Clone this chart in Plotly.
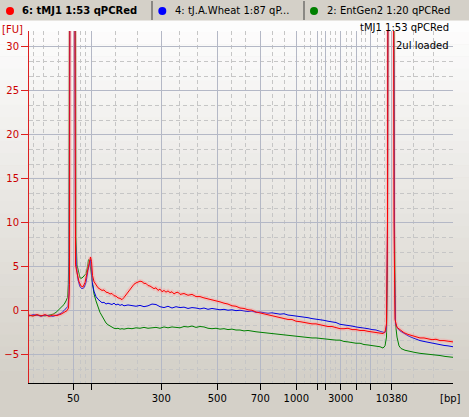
import plotly.graph_objects as go

# ---------------- data (migration position units, fluorescence [FU]) ----------------
red_x = [29, 33, 37, 41, 45, 49, 53, 57, 61, 64, 67, 68.5, 69.5, 70, 72, 74.5, 75, 75.5, 77, 79, 81, 83, 85, 87,
         89, 90.5, 91.5, 92.5, 94, 96, 98, 100, 102, 104, 106, 108, 110, 112, 114, 116, 118, 120, 122, 124, 126,
         128, 130, 132, 134, 136, 138, 140, 142, 144, 146, 148, 150, 152, 154, 156, 158, 160, 162, 164, 166, 168,
         170, 172, 174, 176, 178, 180, 184, 188, 192, 196, 200, 204, 208, 212, 216, 220, 224, 228, 232, 236, 240,
         244, 248, 252, 256, 260, 264, 268, 272, 276, 280, 284, 288, 292, 296, 300, 304, 308, 312, 316, 320, 324,
         328, 332, 336, 340, 344, 348, 352, 356, 360, 364, 368, 372, 376, 380, 383, 385, 386.5, 387.5, 388, 391,
         393.5, 394, 395, 397, 400, 404, 408, 412, 416, 420, 424, 428, 432, 436, 440, 444, 448, 453]
red_y = [-0.5, -0.6, -0.45, -0.6, -0.45, -0.65, -0.5, -0.55, -0.4, -0.2, 0.0, 0.3, 3, 40, 60, 60, 8, 5.2, 4.3, 3.3,
         2.8, 2.7, 3.2, 4.2, 5.4, 6.1, 5.6, 4.0, 3.3, 2.9, 2.6, 2.45, 2.3, 2.35, 2.1, 2.05, 1.9, 1.95, 1.7, 1.65,
         1.45, 1.4, 1.25, 1.5, 1.8, 2.2, 2.5, 2.8, 3.0, 3.15, 3.3, 3.35, 3.3, 3.1, 3.1, 2.85, 2.8, 2.6, 2.5, 2.6,
         2.3, 2.45, 2.15, 2.3, 2.1, 2.25, 2.05, 2.15, 1.9, 2.05, 2.1, 1.85, 1.95, 1.75, 1.85, 1.6, 1.6, 1.45, 1.35,
         1.2, 1.1, 1.0, 0.85, 0.75, 0.55, 0.5, 0.3, 0.25, 0.1, 0.05, -0.15, -0.25, -0.35, -0.5, -0.55, -0.7, -0.8,
         -0.85, -1.0, -1.0, -1.2, -1.25, -1.35, -1.4, -1.5, -1.5, -1.6, -1.65, -1.8, -1.8, -1.95, -2.05, -2.05,
         -2.0, -2.15, -2.15, -2.25, -2.25, -2.35, -2.4, -2.45, -2.55, -2.6, -2.4, -1.5, 10, 40, 60, 40, 10, -1.0,
         -1.9, -2.2, -2.5, -2.7, -2.85, -3.0, -3.1, -3.1, -3.2, -3.3, -3.25, -3.4, -3.4, -3.5, -3.55]

blue_x = [29, 33, 37, 41, 45, 49, 53, 57, 61, 64, 66, 68, 69, 69.5, 70, 72, 74.5, 75, 75.5, 76.5, 78, 80, 82, 84,
          86, 88, 89.5, 90.5, 91.5, 92.5, 94, 96, 98, 100, 102, 104, 106, 108, 110, 112, 114, 116, 118, 120, 122,
          124, 128, 132, 136, 140, 144, 148, 152, 156, 160, 164, 168, 172, 176, 180, 184, 188, 192, 196, 200, 204,
          208, 212, 216, 220, 224, 228, 232, 236, 240, 244, 248, 252, 256, 260, 264, 268, 272, 276, 280, 284, 288,
          292, 296, 300, 304, 308, 312, 316, 320, 324, 328, 332, 336, 340, 344, 348, 352, 356, 360, 364, 368, 372,
          376, 380, 383, 385, 386.5, 387.5, 388, 391, 394, 394.5, 395.5, 397, 400, 404, 408, 412, 416, 420, 424,
          428, 432, 436, 440, 444, 448, 453]
blue_y = [-0.6, -0.45, -0.5, -0.65, -0.5, -0.55, -0.65, -0.5, -0.3, 0.0, 0.3, 0.5, 2, 13, 40, 60, 50, 23, 8, 5.0,
          3.5, 2.7, 2.5, 2.6, 3.2, 4.6, 5.6, 5.8, 4.5, 3.0, 2.2, 1.6, 1.3, 1.05, 0.9, 0.95, 0.75, 0.85, 0.8, 0.7,
          0.85, 0.65, 0.75, 0.6, 0.7, 0.55, 0.65, 0.6, 0.5, 0.6, 0.45, 0.55, 0.75, 0.7, 0.45, 0.35, 0.5, 0.3, 0.45,
          0.35, 0.4, 0.25, 0.35, 0.3, 0.2, 0.3, 0.15, 0.25, 0.2, 0.1, 0.15, 0.05, 0.1, 0.0, 0.05, -0.05, -0.1,
          -0.05, -0.2, -0.15, -0.25, -0.3, -0.25, -0.35, -0.4, -0.35, -0.5, -0.55, -0.6, -0.7, -0.75, -0.8, -0.9,
          -0.95, -1.05, -1.1, -1.2, -1.25, -1.35, -1.55, -1.6, -1.7, -1.75, -1.85, -1.9, -2.0, -2.05, -2.15, -2.2,
          -2.35, -2.45, -2.5, -2.0, 10, 40, 60, 27, 5, -1.5, -1.9, -2.3, -2.6, -2.85, -3.05, -3.25, -3.4, -3.5,
          -3.6, -3.7, -3.75, -3.85, -3.95, -4.0, -4.1]

green_x = [29, 33, 37, 41, 45, 49, 53, 56, 59, 62, 64, 66, 67.5, 68.3, 68.8, 69.5, 72, 75.5, 76, 77, 78.5, 80, 82,
           84, 86, 87.5, 88.5, 89.5, 91, 92.5, 94, 96, 98, 100, 102, 104, 106, 108, 110, 112, 114, 116, 118, 120,
           122, 124, 128, 132, 136, 140, 144, 148, 152, 156, 160, 164, 168, 172, 176, 180, 184, 188, 192, 196, 200,
           204, 208, 212, 216, 220, 224, 228, 232, 236, 240, 244, 248, 252, 256, 260, 264, 268, 272, 276, 280, 284,
           288, 292, 296, 300, 304, 308, 312, 316, 320, 324, 328, 332, 336, 340, 344, 348, 352, 356, 360, 364, 368,
           372, 376, 380, 383, 385, 386.5, 387.5, 388, 391, 394, 394.5, 395.5, 397, 399, 401, 405, 410, 415, 420,
           425, 430, 435, 440, 445, 449, 453]
green_y = [-0.55, -0.6, -0.5, -0.55, -0.6, -0.5, -0.4, -0.2, 0.1, 0.4, 0.7, 1.1, 1.5, 3, 6, 40, 60, 40, 8.4, 5.2,
           4.2, 3.7, 3.7, 3.9, 4.2, 5.0, 5.8, 5.7, 4.2, 2.8, 1.9, 1.1, 0.4, -0.2, -0.6, -1.1, -1.4, -1.6, -1.75,
           -1.85, -2.0, -2.05, -2.0, -2.1, -2.05, -2.1, -2.0, -2.05, -1.95, -2.0, -1.9, -2.0, -1.95, -1.9, -2.0,
           -1.85, -1.95, -1.85, -1.9, -1.95, -1.8, -1.85, -1.75, -1.9, -1.8, -1.85, -2.0, -2.05, -2.0, -2.1, -2.05,
           -2.15, -2.1, -2.2, -2.2, -2.3, -2.25, -2.35, -2.4, -2.45, -2.5, -2.55, -2.6, -2.65, -2.7, -2.75, -2.85,
           -2.9, -2.95, -2.95, -3.0, -3.05, -3.1, -3.1, -3.15, -3.2, -3.3, -3.3, -3.35, -3.35, -3.5, -3.55, -3.65,
           -3.7, -3.7, -3.85, -3.9, -3.95, -4.0, -4.1, -4.25, -4.0, -3.0, 5, 40, 60, 40, 10, -1.5, -3.0, -4.0, -4.3,
           -4.5, -4.65, -4.75, -4.85, -4.9, -4.95, -5.05, -5.1, -5.2, -5.25, -5.3]

x_tickvals = [73.3, 91.3, 161.3, 217.3, 260.3, 296.3, 317.3, 325.3, 340.7, 356.3, 370.3, 391.7]
x_ticktext = ["50", "", "300", "500", "700", "1000", "", "", "3000", "", "", "10380"]
x_minor = [33.3, 43.3, 58.3, 80, 85.7, 115, 137.7, 179.3, 197.7, 231, 245.7, 272.7, 284.3, 304, 310.7, 321.7,
           330.3, 335.3, 346, 351, 361, 365, 377.7, 384.7, 413, 433, 453]

tab_labels = ["6: tMJ1 1:53 qPCRed", "4: tJ.A.Wheat 1:87 qP...", "2: EntGen2 1:20 qPCRed"]
tab_colors = ["#ff0000", "#0000ff", "#008000"]

# ---------------- layout geometry ----------------
W, H = 469, 417
ML, MR, MT, MB = 29, 16, 31, 34
PW, PH = W - ML - MR, H - MT - MB


def px(x):
    return (x - ML) / PW


def py(y):
    return (H - MB - y) / PH


fig = go.Figure()
fig.add_trace(go.Scatter(x=green_x, y=green_y, mode="lines", line=dict(color="#008000", width=1),
                         name="2", hoverinfo="skip"))
fig.add_trace(go.Scatter(x=blue_x, y=blue_y, mode="lines", line=dict(color="#0000e0", width=1),
                         name="4", hoverinfo="skip"))
fig.add_trace(go.Scatter(x=red_x, y=red_y, mode="lines", line=dict(color="rgba(255,150,150,0.35)", width=4),
                         name="halo", hoverinfo="skip"))
fig.add_trace(go.Scatter(x=red_x, y=red_y, mode="lines", line=dict(color="#ff0000", width=1),
                         name="6", hoverinfo="skip"))

shapes = []
# background gradient (white at top -> windows grey at bottom)
top, bot = 20, H - MB
n = 30
c0, c1 = (253, 253, 253), (212, 208, 200)
for i in range(n):
    t = i / (n - 1)
    col = tuple(round(c0[k] + (c1[k] - c0[k]) * t) for k in range(3))
    y0 = top + (bot - top) * i / n
    y1 = top + (bot - top) * (i + 1) / n + 0.5
    shapes.append(dict(type="rect", xref="paper", yref="paper", x0=px(0), x1=px(W), y0=py(y1), y1=py(y0),
                       fillcolor="rgb(%d,%d,%d)" % col, line=dict(width=0), layer="below"))
# tab bar
shapes.append(dict(type="rect", xref="paper", yref="paper", x0=px(0), x1=px(W), y0=py(20.5), y1=py(0),
                   fillcolor="#d4d0c8", line=dict(width=0), layer="below"))
for sx in (152, 304):
    shapes.append(dict(type="line", xref="paper", yref="paper", x0=px(sx), x1=px(sx), y0=py(20), y1=py(1),
                       line=dict(color="#404040", width=1), layer="below"))
for cx, col in zip((10, 162.3, 314), tab_colors):
    shapes.append(dict(type="circle", xref="paper", yref="paper", x0=px(cx - 4), x1=px(cx + 4),
                       y0=py(15), y1=py(7), fillcolor=col, line=dict(color=col, width=0), layer="below"))

annotations = []
for lx, lab, bold in zip((20, 172.7, 325), tab_labels, (True, False, False)):
    annotations.append(dict(x=px(lx), y=py(11), xref="paper", yref="paper", xanchor="left", yanchor="middle",
                            text=("<b>%s</b>" % lab) if bold else lab, showarrow=False,
                            font=dict(family="DejaVu Sans", size=10, color="#000000")))
annotations.append(dict(x=px(0), y=py(30), xref="paper", yref="paper", xanchor="left", yanchor="middle",
                        text="[FU]", showarrow=False, font=dict(family="DejaVu Sans", size=10, color="#cc0000")))
annotations.append(dict(x=px(451), y=py(28), xref="paper", yref="paper", xanchor="right", yanchor="middle",
                        text="tMJ1 1:53 qPCRed", showarrow=False,
                        font=dict(family="DejaVu Sans", size=10, color="#000000")))
annotations.append(dict(x=px(451), y=py(45), xref="paper", yref="paper", xanchor="right", yanchor="middle",
                        text="2ul loaded", showarrow=False, font=dict(family="DejaVu Sans", size=10, color="#000000")))
annotations.append(dict(x=px(463), y=py(398), xref="paper", yref="paper", xanchor="right", yanchor="middle",
                        text="[bp]", showarrow=False, font=dict(family="DejaVu Sans", size=10, color="#000000")))

fig.update_layout(
    width=W, height=H,
    margin=dict(l=ML, r=MR, t=MT, b=MB, pad=0, autoexpand=False),
    paper_bgcolor="#d4d0c8", plot_bgcolor="rgba(0,0,0,0)",
    showlegend=False,
    shapes=shapes, annotations=annotations,
    xaxis=dict(range=[29, 453], tickmode="array", tickvals=x_tickvals, ticktext=x_ticktext,
               showgrid=True, gridcolor="#b4b8c6", gridwidth=1, zeroline=False, automargin=False,
               showline=True, linecolor="#000000", linewidth=1, ticks="outside", ticklen=6, tickcolor="#000000",
               tickfont=dict(family="DejaVu Sans", size=10, color="#000000"),
               minor=dict(tickmode="array", tickvals=x_minor, showgrid=True, griddash="4px,3px",
                          gridcolor="#c6c6c6", gridwidth=1, ticks=""),
               fixedrange=True),
    yaxis=dict(range=[-8.22, 31.78], tickmode="linear", tick0=0, dtick=5,
               showgrid=True, gridcolor="#b4b8c6", gridwidth=1, zeroline=False, automargin=False,
               showline=True, linecolor="#dd2020", linewidth=1, ticks="outside", ticklen=7, tickcolor="#dd2020",
               tickfont=dict(family="DejaVu Sans", size=10, color="#cc0000"),
               minor=dict(tick0=0, dtick=5 / 3, showgrid=True, griddash="4px,3px", gridcolor="#c6c6c6",
                          gridwidth=1, ticks=""),
               fixedrange=True),
)

fig.write_html("out.html", config={"displayModeBar": False},
               post_script="document.body.style.margin='0';document.body.style.overflow='hidden';")
